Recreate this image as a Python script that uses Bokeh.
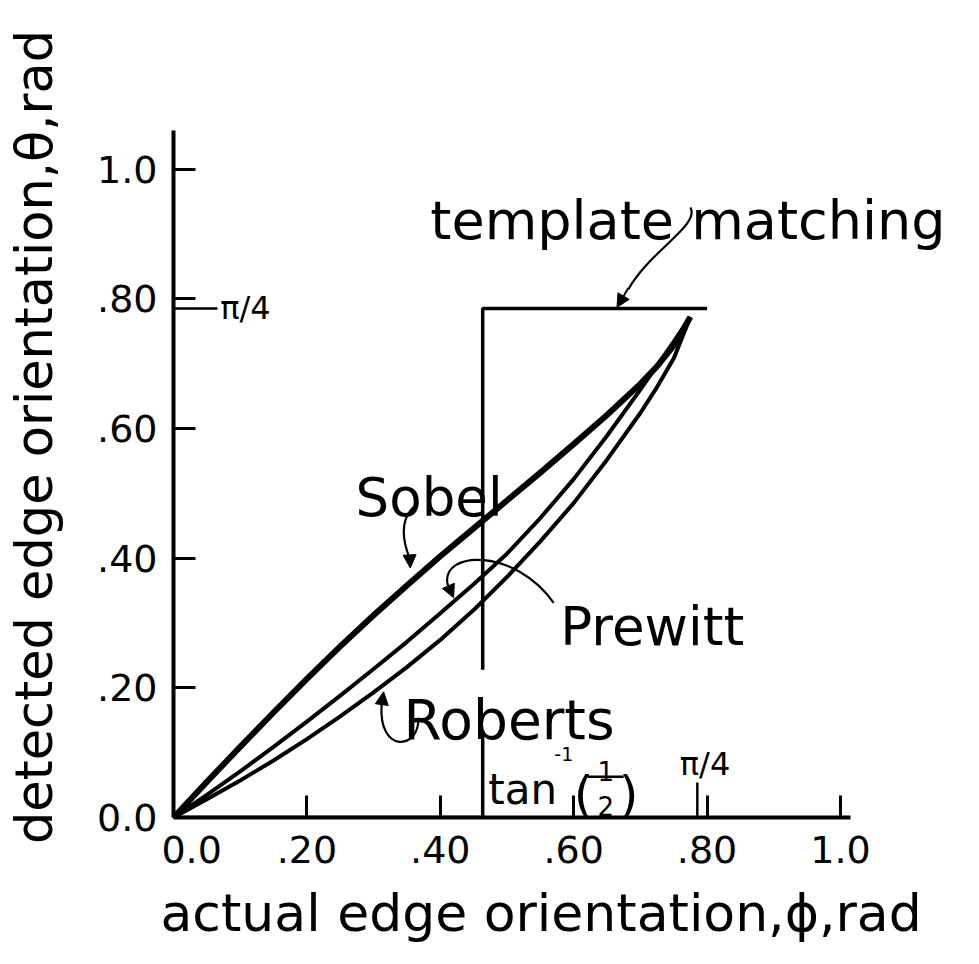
from bokeh.plotting import figure
from bokeh.models import Label, Arrow, NormalHead, FixedTicker, Range1d, Title
from bokeh.embed import file_html
from bokeh.resources import INLINE

# ---------------- data ----------------
phi = [0.00, 0.05, 0.10, 0.15, 0.20, 0.25, 0.30, 0.35, 0.40, 0.45,
       0.50, 0.55, 0.60, 0.65, 0.70, 0.725, 0.75, 0.775]
sobel = [0.000, 0.055, 0.109, 0.162, 0.214, 0.264, 0.312, 0.358, 0.403, 0.446,
         0.489, 0.532, 0.576, 0.621, 0.669, 0.696, 0.728, 0.772]
prewitt = [0.000, 0.035, 0.071, 0.109, 0.148, 0.188, 0.229, 0.271, 0.315, 0.360,
           0.407, 0.462, 0.522, 0.589, 0.660, 0.697, 0.734, 0.772]
roberts = [0.000, 0.028, 0.057, 0.088, 0.121, 0.156, 0.193, 0.232, 0.274, 0.320,
           0.371, 0.426, 0.485, 0.552, 0.624, 0.664, 0.708, 0.772]

template_x = [0.0, 0.4636, 0.4636, 0.80]
template_y = [0.0, 0.0, 0.7854, 0.7854]

x_ticks = [0.0, 0.2, 0.4, 0.6, 0.8, 1.0]
x_tick_labels = ["0.0", ".20", ".40", ".60", ".80", "1.0"]
y_ticks = [0.0, 0.2, 0.4, 0.6, 0.8, 1.0]
y_tick_labels = ["0.0", ".20", ".40", ".60", ".80", "1.0"]

x_title = "actual edge orientation,\u03d5,rad"
y_title = "detected edge orientation,\u03b8,rad"

PI4 = 0.7854
TAN_HALF = 0.4636

FONT = "DejaVu Sans"

p = figure(width=963, height=948,
           x_range=Range1d(0, 1.18), y_range=Range1d(0, 1.174),
           output_backend="svg", toolbar_location=None,
           min_border_left=173, min_border_right=3,
           min_border_top=56, min_border_bottom=130)
p.grid.visible = False
p.outline_line_color = None
p.background_fill_color = "white"
p.border_fill_color = "white"

NB = "\u00a0"
for ax, ticks, bounds in ((p.xaxis[0], x_ticks, (0, 1.015)),
                          (p.yaxis[0], y_ticks, (0, 1.06))):
    ax.ticker = FixedTicker(ticks=ticks)
    ax.bounds = bounds
    ax.axis_line_width = 4
    ax.axis_line_color = "black"
    ax.major_tick_in = 22
    ax.major_tick_out = 0
    ax.major_tick_line_width = 3
    ax.major_tick_line_color = "black"
    ax.minor_tick_line_color = None
    ax.major_label_text_font = FONT
    ax.major_label_text_font_size = "38px"
    ax.major_label_text_color = "black"
    ax.axis_label_text_font = FONT
    ax.axis_label_text_font_style = "normal"
    ax.axis_label_text_color = "black"

p.xaxis.major_label_standoff = 10
p.yaxis.major_label_standoff = 16

# x "0.0" sits a little right of its tick, clear of the y "0.0"
xl = dict(zip(x_ticks, x_tick_labels))
xl[x_ticks[0]] = NB * 3 + x_tick_labels[0]
p.xaxis.major_label_overrides = xl
p.yaxis.major_label_overrides = dict(zip(y_ticks, y_tick_labels))

p.yaxis.axis_label = y_title
p.yaxis.axis_label_text_font_size = "51px"
p.yaxis.axis_label_standoff = 30
p.add_layout(Title(text=x_title, align="left", offset=-13, standoff=12,
                   text_font=FONT, text_font_size="52px", text_font_style="normal",
                   text_color="black"), "below")

# template matching step
p.line(template_x, template_y, line_width=3.5, line_color="black")
# gap in the vertical line behind "Roberts"
p.quad(left=TAN_HALF - 0.012, right=TAN_HALF + 0.012, bottom=0.133, top=0.228,
       fill_color="white", line_color=None)

# curves
p.line(phi, roberts, line_width=4, line_color="black", line_join="round")
p.line(phi, prewitt, line_width=4, line_color="black", line_join="round")
p.line(phi, sobel, line_width=6, line_color="black", line_join="round")

# pi/4 markers
p.segment(x0=[0.0], y0=[PI4], x1=[0.066], y1=[PI4], line_width=2.5, line_color="black")
p.segment(x0=[PI4], y0=[0.0], x1=[PI4], y1=[0.054], line_width=2.5, line_color="black")

def lab(text, x, y, size, align="left", baseline="alphabetic"):
    p.add_layout(Label(x=x, y=y, text=text, text_font=FONT, text_font_size=size,
                       text_align=align, text_baseline=baseline, text_color="black"))

lab("template matching", 0.385, 0.921, "54px")
lab("Sobel", 0.273, 0.493, "53px")
lab("Prewitt", 0.580, 0.294, "53px")
lab("Roberts", 0.345, 0.151, "55px")
lab("\u03c0/4", 0.070, PI4, "32px", baseline="middle")
lab("\u03c0/4", 0.797, 0.082, "32px", align="center")
# tan^-1(1/2)
lab("tan", 0.472, 0.043, "42px")
lab("-1", 0.571, 0.098, "19px")
lab("(", 0.600, 0.034, "50px")
lab("1", 0.648, 0.071, "26px", align="center")
lab("2", 0.648, 0.017, "26px", align="center")
lab(")", 0.668, 0.034, "50px")
p.segment(x0=[0.621], y0=[0.063], x1=[0.675], y1=[0.063], line_width=2.5, line_color="black")

# curved pointer arrows
arrows = [
    # (x0, y0, cx0, cy0, cx1, cy1, x1, y1, head_from_x, head_from_y, tip_x, tip_y)
    (0.775, 0.941, 0.790, 0.914, 0.715, 0.875, 0.682, 0.815, 0.682, 0.817, 0.665, 0.787),
    (0.360, 0.479, 0.337, 0.456, 0.346, 0.421, 0.354, 0.400, 0.354, 0.405, 0.355, 0.385),
    (0.570, 0.331, 0.513, 0.416, 0.400, 0.413, 0.411, 0.359, 0.411, 0.360, 0.420, 0.339),
    (0.367, 0.154, 0.370, 0.105, 0.307, 0.097, 0.312, 0.174, 0.312, 0.172, 0.315, 0.194),
]
for a in arrows:
    p.bezier(x0=[a[0]], y0=[a[1]], cx0=[a[2]], cy0=[a[3]], cx1=[a[4]], cy1=[a[5]],
             x1=[a[6]], y1=[a[7]], line_width=2.2, line_color="black")
    p.add_layout(Arrow(end=NormalHead(size=13, fill_color="black", line_color="black"),
                       x_start=a[8], y_start=a[9], x_end=a[10], y_end=a[11],
                       line_width=2, line_color="black"))

open("out.html", "w").write(file_html(p, INLINE))
